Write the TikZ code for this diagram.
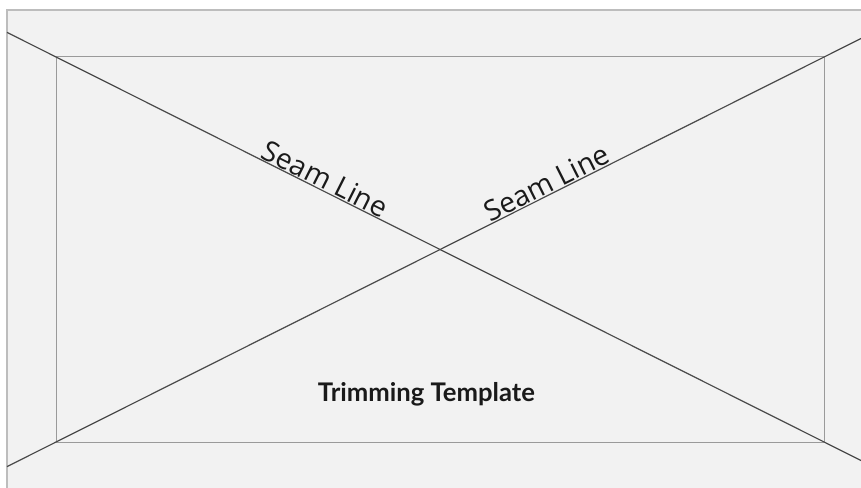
\documentclass[tikz,border=0pt]{standalone}
\usepackage{fontspec}
\newfontfamily\seamfont{Open Sans}
\newfontfamily\titlefont{Lato}
\usepackage{graphicx}
\definecolor{paper}{HTML}{F2F2F2}
\definecolor{frame}{HTML}{BDBDBD}
\definecolor{inner}{HTML}{9A9A9A}
\definecolor{seam}{HTML}{4A4A4A}
\definecolor{ink}{HTML}{1A1A1A}
\begin{document}
\begin{tikzpicture}[x=1pt,y=-1pt,
  outerframe/.style={draw=frame,line width=1.6pt,fill=paper},
  innerframe/.style={draw=inner,line width=1pt},
  seamline/.style={draw=seam,line width=1.2pt},
  seamlabel/.style={sloped,anchor=south,inner sep=0.6pt,text=ink,font=\seamfont},
  titlelabel/.style={anchor=base,inner sep=0pt,text=ink,font=\titlefont\bfseries}]
\useasboundingbox (0,0) rectangle (861,487);
\fill[white] (0,0) rectangle (861,487);
\begin{scope}
\clip (0,0) rectangle (861,487);
\path[outerframe] (7,10) rectangle (875,500);
\end{scope}
% inner template corners
\coordinate (tl) at (56,57);
\coordinate (tr) at (824,57);
\coordinate (bl) at (56,442);
\coordinate (br) at (824,442);
\draw[innerframe] (tl) -- (tr) -- (br) -- (bl) -- cycle;
% diagonal ends
\coordinate (a1) at (7,32.4);
\coordinate (a2) at (861,460.5);
\coordinate (b1) at (7,466.6);
\coordinate (b2) at (861,38.5);
\draw[seamline] (a1) -- node[seamlabel,pos=0.3665] (s1) {\resizebox{136pt}{!}{Seam Line}} (a2);
\draw[seamline] (b1) -- node[seamlabel,pos=0.638] (s2) {\resizebox{136pt}{!}{Seam Line}} (b2);
\node[titlelabel] (title) at (426.5,401.7) {\resizebox{217pt}{!}{Trimming Template}};
\end{tikzpicture}
\end{document}
